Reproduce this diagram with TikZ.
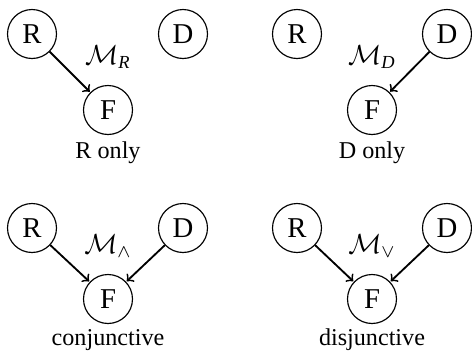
\documentclass[tikz,border=0pt]{standalone}
\usepackage{amsmath}
\usepackage{fontspec}
\setmainfont{Liberation Serif}
\begin{document}
\begin{tikzpicture}[x=0.4348pt,y=-0.4348pt,
  var/.style={draw,circle,line width=0.5pt,minimum size=21.3pt,inner sep=0pt,font=\fontsize{12.5}{14}\selectfont},
  lbl/.style={font=\fontsize{10.5}{12}\selectfont,inner sep=0pt},
  mlbl/.style={font=\fontsize{12}{14}\selectfont,inner sep=0pt},
  edge/.style={->,line width=0.8pt,shorten >=0.3pt}]
\useasboundingbox (0,0) rectangle (472,358);
% panel 1
\node[var] (r1) at (32,34) {R};
\node[var] (d1) at (183,34) {D};
\node[var] (f1) at (108,110) {F};
\node[mlbl] (m1) at (108,57) {$\mathcal{M}_{\textit{R}}$};
\node[lbl] (t1) at (108,153) {R only};
\draw[edge] (r1) -- (f1);
% panel 2
\node[var] (r2) at (297,34) {R};
\node[var] (d2) at (447,34) {D};
\node[var] (f2) at (372,110) {F};
\node[mlbl] (m2) at (372,57) {$\mathcal{M}_{\textit{D}}$};
\node[lbl] (t2) at (372,153) {D only};
\draw[edge] (d2) -- (f2);
% panel 3
\node[var] (r3) at (32,228) {R};
\node[var] (d3) at (183,228) {D};
\node[var] (f3) at (108,299) {F};
\node[mlbl] (m3) at (108,246) {$\mathcal{M}_{\wedge}$};
\node[lbl] (t3) at (108,340) {conjunctive};
\draw[edge] (r3) -- (f3);
\draw[edge] (d3) -- (f3);
% panel 4
\node[var] (r4) at (297,228) {R};
\node[var] (d4) at (447,228) {D};
\node[var] (f4) at (372,299) {F};
\node[mlbl] (m4) at (372,246) {$\mathcal{M}_{\vee}$};
\node[lbl] (t4) at (372,340) {disjunctive};
\draw[edge] (r4) -- (f4);
\draw[edge] (d4) -- (f4);
\end{tikzpicture}
\end{document}
